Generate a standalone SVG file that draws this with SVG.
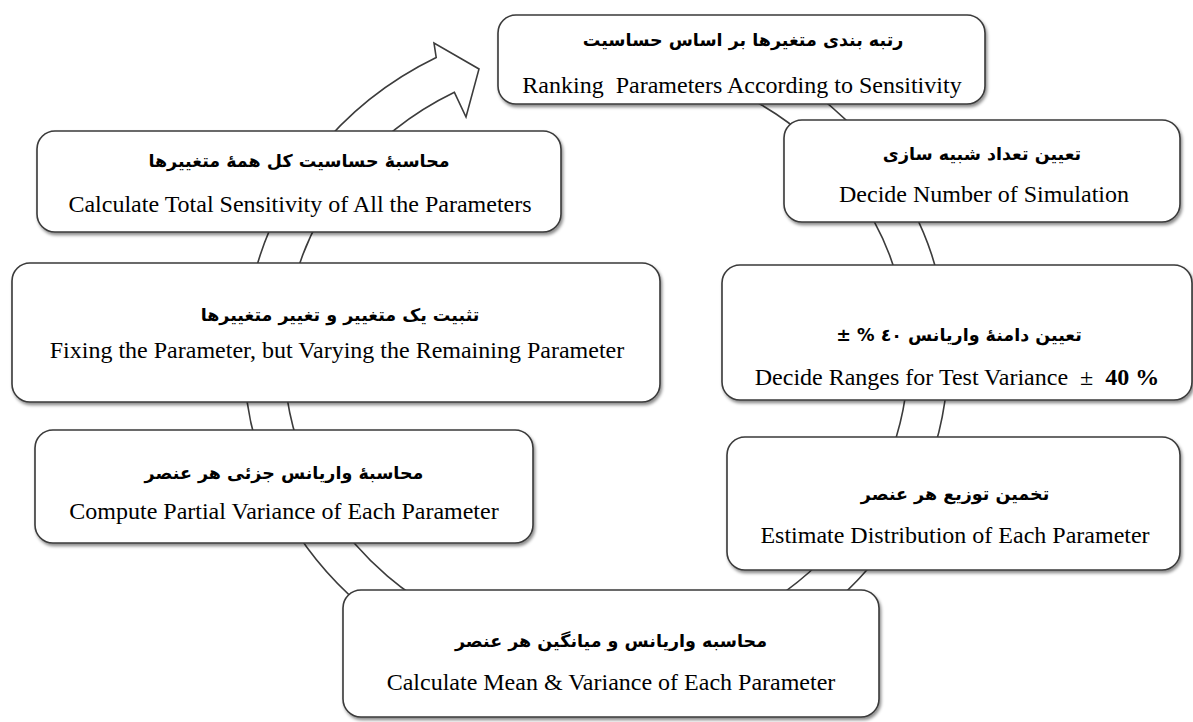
<svg xmlns="http://www.w3.org/2000/svg" width="1193" height="722" viewBox="0 0 1193 722">
<defs>
<filter id="sh" x="-5%" y="-10%" width="115%" height="130%">
<feDropShadow dx="1.5" dy="2.5" stdDeviation="1.8" flood-color="#000" flood-opacity="0.45"/>
</filter>
<style>
.box{fill:#fff;stroke:#3a3a3a;stroke-width:1.6;filter:url(#sh)}
.fa{font-family:"DejaVu Sans",sans-serif;font-weight:bold;font-size:17.5px;fill:#000;text-anchor:middle}
.en{font-family:"Liberation Serif","Times New Roman",serif;font-size:24px;fill:#000;text-anchor:middle}
.ring{fill:#fff;stroke:#3c3c3c;stroke-width:1.6;stroke-linejoin:miter}
</style>
</defs>
<rect width="1193" height="722" fill="#fff"/>
<g id="connectors">
<path class="ring" d="M 596,21 A 352 335 0 1 1 436.2,57.5 L 434,43 L 479,69 L 466,117 L 454.4,92.3 A 312 296 0 1 0 596,60 Z"/>
</g>
<g id="n-ranking">
<rect class="box" x="498" y="15" width="487" height="89" rx="18"/>
<text class="fa" x="743" y="46" direction="rtl">رتبه بندی متغیرها بر اساس حساسیت</text>
<text class="en" x="742" y="93" xml:space="preserve">Ranking  Parameters According to Sensitivity</text>
</g>
<g id="n-decide-number">
<rect class="box" x="784" y="120" width="396" height="102" rx="18"/>
<text class="fa" x="982" y="160" direction="rtl">تعیین تعداد شبیه سازی</text>
<text class="en" x="984" y="202">Decide Number of Simulation</text>
</g>
<g id="n-total">
<rect class="box" x="37" y="131" width="524" height="101" rx="18"/>
<text class="fa" x="299" y="167" direction="rtl">محاسبهٔ حساسیت کل همهٔ متغییرها</text>
<text class="en" x="300" y="212">Calculate Total Sensitivity of All the Parameters</text>
</g>
<g id="n-fixing">
<rect class="box" x="12" y="263" width="648" height="139" rx="18"/>
<text class="fa" x="340" y="321" direction="rtl">تثبیت یک متغییر و تغییر متغییرها</text>
<text class="en" x="337" y="358">Fixing the Parameter, but Varying the Remaining Parameter</text>
</g>
<g id="n-range">
<rect class="box" x="722" y="265" width="470" height="135" rx="18"/>
<text class="fa" x="959" y="341" direction="rtl">تعیین دامنهٔ واریانس ٤٠ % ±</text>
<text class="en" x="957" y="385" xml:space="preserve">Decide Ranges for Test Variance  ±  <tspan font-weight="bold">40 %</tspan></text>
</g>
<g id="n-compute">
<rect class="box" x="35" y="430" width="498" height="113" rx="18"/>
<text class="fa" x="284" y="479" direction="rtl">محاسبهٔ واریانس جزئی هر عنصر</text>
<text class="en" x="284" y="519">Compute Partial Variance of Each Parameter</text>
</g>
<g id="n-estimate">
<rect class="box" x="727" y="437" width="453" height="133" rx="18"/>
<text class="fa" x="955" y="500" direction="rtl">تخمین توزیع هر عنصر</text>
<text class="en" x="955" y="543">Estimate Distribution of Each Parameter</text>
</g>
<g id="n-mean">
<rect class="box" x="343" y="590" width="536" height="127" rx="18"/>
<text class="fa" x="611" y="647" direction="rtl">محاسبه واریانس و میانگین هر عنصر</text>
<text class="en" x="611" y="690">Calculate Mean &amp; Variance of Each Parameter</text>
</g>
</svg>
